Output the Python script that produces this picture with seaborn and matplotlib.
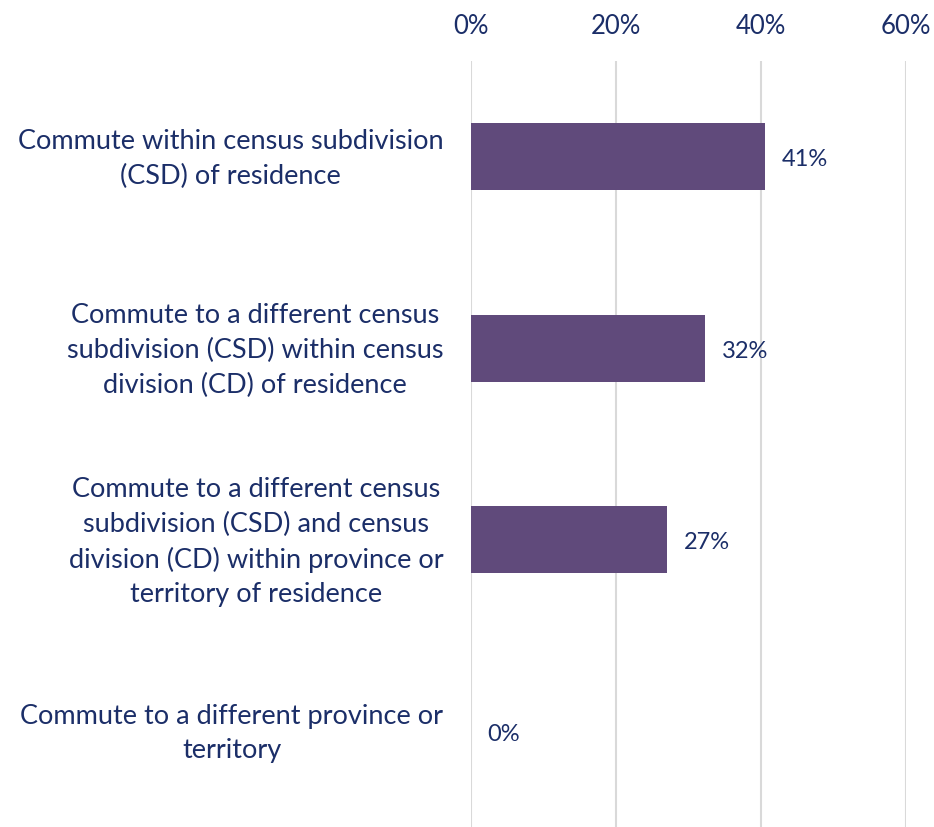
import pandas as pd
import matplotlib.pyplot as plt
import matplotlib.transforms as mtransforms
import seaborn as sns

# categories and shares (%)
categories = [
    'Commute within census subdivision\n(CSD) of residence',
    'Commute to a different census\nsubdivision (CSD) within census\ndivision (CD) of residence',
    'Commute to a different census\nsubdivision (CSD) and census\ndivision (CD) within province or\nterritory of residence',
    'Commute to a different province or\nterritory',
]
shares = [40.6, 32.3, 27.1, 0]
tick_values = [0, 20, 40, 60]
tick_labels = ['0%', '20%', '40%', '60%']

bar_color = '#604A7B'
text_color = '#1B2E68'

sns.set_theme(style='white')
plt.rcParams['font.family'] = ['Lato', 'DejaVu Sans']

df = pd.DataFrame({'category': categories, 'share': shares})

fig = plt.figure(figsize=(9.34, 8.27), dpi=100)
ax = fig.add_axes([471 / 934, 0, (906 - 471) / 934, (827 - 61) / 827])

sns.barplot(data=df, x='share', y='category', color=bar_color, width=0.35,
            saturation=1, linewidth=0, ax=ax, zorder=3)

ax.set_xlim(0, 60)
ax.set_ylim(3.5, -0.5)
ax.set_xticks(tick_values)
ax.set_xticklabels(tick_labels)
ax.xaxis.tick_top()
ax.tick_params(axis='x', colors=text_color, labelsize=18.5, length=0, pad=16)
ax.tick_params(axis='y', colors=text_color, labelsize=19.5, length=0, pad=20)
ax.set_yticks(range(len(categories)))
ax.set_yticklabels(categories, linespacing=1.48, multialignment='center')
# nudge category labels up a little so they sit centred on the bars
shift = mtransforms.ScaledTranslation(0, 3.5 / 72, fig.dpi_scale_trans)
for lbl in ax.get_yticklabels():
    lbl.set_transform(lbl.get_transform() + shift)
ax.grid(axis='x', color='#D9D9D9', linewidth=1.5, zorder=0)
ax.set_xlabel('')
ax.set_ylabel('')
for side in ['top', 'right', 'bottom', 'left']:
    ax.spines[side].set_visible(False)

for i, v in enumerate(shares):
    ax.annotate(f'{v:.0f}%', xy=(v, i), xytext=(12, -2), textcoords='offset points',
                va='center', ha='left', color=text_color, fontsize=17)

fig.savefig('out.png', dpi=100)
